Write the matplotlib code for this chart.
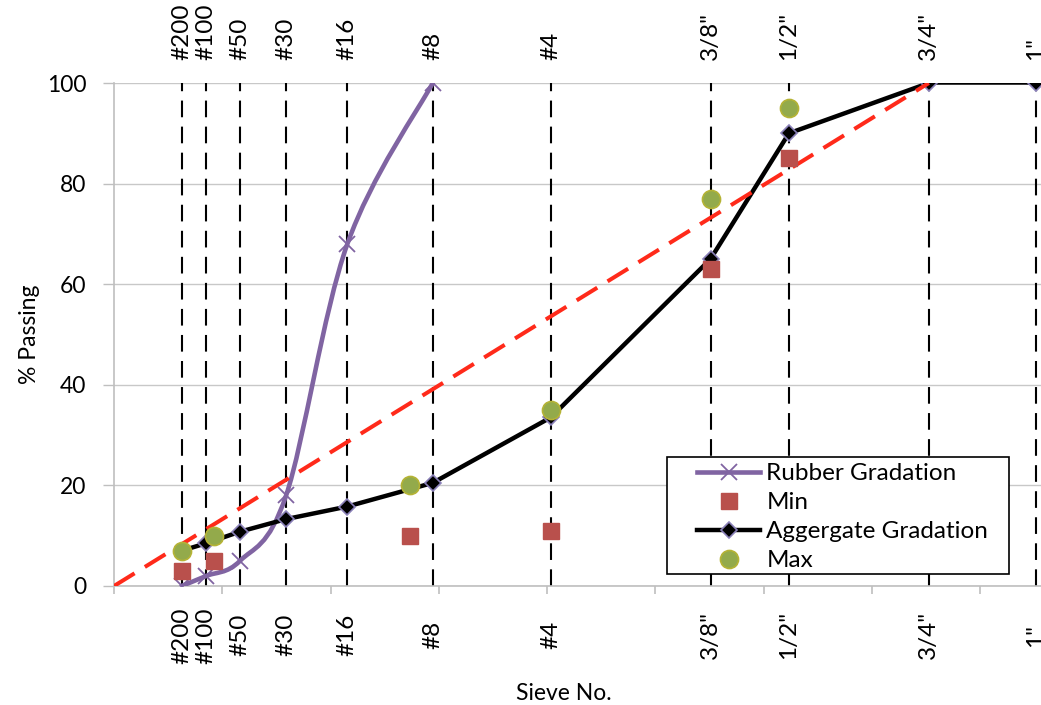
import matplotlib
matplotlib.use('Agg')

import matplotlib.pyplot as plt
from matplotlib.path import Path
from matplotlib.patches import PathPatch, Rectangle
from matplotlib.lines import Line2D

plt.rcParams['font.family'] = ['Lato', 'DejaVu Sans']

# sieves (mm) with their names, x axis is size^0.45
sieve_names = ['#200', '#100', '#50', '#30', '#16', '#8', '#4', '3/8"', '1/2"', '3/4"', '1"']
sieve_mm = [0.075, 0.15, 0.3, 0.6, 1.18, 2.36, 4.75, 9.5, 12.5, 19.0, 25.0]

rubber_mm = [0.075, 0.15, 0.3, 0.6, 1.18, 2.36]
rubber_pass = [0, 2, 5, 18, 68, 100]

agg_mm = [0.075, 0.15, 0.3, 0.6, 1.18, 2.36, 4.75, 9.5, 12.5, 19.0, 25.0]
agg_pass = [7, 8.5, 10.8, 13.3, 15.8, 20.5, 33.5, 65, 90, 100, 100]

spec_mm = [0.075, 0.18, 2.0, 4.75, 9.5, 12.5]
spec_min = [3, 5, 10, 11, 63, 85]
spec_max = [7, 10, 20, 35, 77, 95]

maxden_mm = [0.0, 19.0]
maxden_pass = [0, 100]

y_ticks = [0, 20, 40, 60, 80, 100]


def p45(sizes):
    return [s ** 0.45 for s in sizes]


def smooth_path(xs, ys):
    # excel style smoothed line (bezier through the points)
    pts = list(zip(xs, ys))
    n = len(pts)
    verts = [pts[0]]
    codes = [Path.MOVETO]
    for i in range(n - 1):
        p0 = pts[max(i - 1, 0)]
        p1 = pts[i]
        p2 = pts[i + 1]
        p3 = pts[min(i + 2, n - 1)]
        c1 = (p1[0] + (p2[0] - p0[0]) / 6, p1[1] + (p2[1] - p0[1]) / 6)
        c2 = (p2[0] - (p3[0] - p1[0]) / 6, p2[1] - (p3[1] - p1[1]) / 6)
        verts += [c1, c2, p2]
        codes += [Path.CURVE4] * 3
    return Path(verts, codes)


fs = 17.5
W, H = 1041, 705
fig = plt.figure(figsize=(W / 100, H / 100), dpi=100)
ax = fig.add_axes([114 / W, 119 / H, 953 / W, 503 / H])

sx = p45(sieve_mm)

ax.set_xlim(0, 4.4)
ax.set_ylim(0, 100)
ax.set_yticks(y_ticks)
ax.set_xticks([0.5 * i for i in range(9)])
ax.set_xticklabels([])
ax.tick_params(axis='x', length=6, width=1.2, color='#bfbfbf')
ax.tick_params(axis='y', length=8, width=1, color='#bfbfbf', pad=12, labelsize=16.5)
ax.grid(axis='y', color='#c8c8c8', lw=1)
ax.set_axisbelow(True)
for s in ['top', 'right']:
    ax.spines[s].set_visible(False)
for s in ['left', 'bottom']:
    ax.spines[s].set_color('#bfbfbf')
    ax.spines[s].set_linewidth(1.2)

# sieve lines
ax.vlines(sx, 0, 100, colors='black', lw=1.5, linestyles=[(0, (8, 4.5))], zorder=2)

for x, name in zip(sx, sieve_names):
    ax.text(x, 104.5, name, rotation=90, ha='center', va='bottom', fontsize=fs, clip_on=False)
    ax.text(x, -9.8, name, rotation=90, ha='center', va='center', fontsize=fs, clip_on=False)

# rubber gradation
rx = p45(rubber_mm)
ax.add_patch(PathPatch(smooth_path(rx, rubber_pass), facecolor='none', edgecolor='#8064a2',
                       lw=3.3, zorder=3, capstyle='round'))
ax.plot(rx, rubber_pass, ls='none', marker='x', ms=11, mew=1.3, color='#8064a2', zorder=4)

# aggregate gradation
ax_ = p45(agg_mm)
ax.plot(ax_[:-1], agg_pass[:-1], color='black', lw=3.2, zorder=4)
ax.plot(ax_[-2:], agg_pass[-2:], color='black', lw=1.8, zorder=4)
ax.plot(ax_, agg_pass, ls='none', marker='D', ms=8, color='black', mec='#8a80b8', mew=1.2, zorder=5)

# max density line
ax.plot(p45(maxden_mm), maxden_pass, color='#ff2a1a', lw=2.9, ls=(0, (6, 3)), zorder=6)

# specification limits
spx = p45(spec_mm)
ax.plot(spx, spec_min, ls='none', marker='s', ms=12, color='#b9504c', zorder=7)
ax.plot(spx, spec_max, ls='none', marker='o', ms=13, color='#93aa4b', mec='#b5b335', mew=1.2, zorder=8)

fig.text(30 / W, 1 - 334 / H, '% Passing', rotation=90, ha='center', va='center', fontsize=16.5)
fig.text(564 / W, 1 - 693 / H, 'Sieve No.', ha='center', va='center', fontsize=16.5)

# legend
fig.add_artist(Rectangle((667 / W, 1 - 574 / H), (1009 - 667) / W, (574 - 457) / H,
                         transform=fig.transFigure, facecolor='white', edgecolor='black',
                         lw=1.2, zorder=3))
handles = [
    Line2D([], [], color='#8064a2', lw=3.3, marker='x', ms=11, mew=1.3),
    Line2D([], [], ls='none', marker='s', ms=12, color='#b9504c'),
    Line2D([], [], color='black', lw=3.2, marker='D', ms=8, mec='#8a80b8', mew=1.2),
    Line2D([], [], ls='none', marker='o', ms=13, color='#93aa4b', mec='#b5b335', mew=1.2),
]
labels = ['Rubber Gradation', 'Min', 'Aggergate Gradation', 'Max']
leg = fig.legend(handles, labels, loc='upper left', bbox_to_anchor=(697 / W, 1 - 463 / H),
                 frameon=False, fontsize=fs, borderpad=0, borderaxespad=0,
                 handlelength=2.6, handletextpad=0.25, labelspacing=0.33)
leg.set_zorder(5)

fig.savefig('out.png', dpi=100)
